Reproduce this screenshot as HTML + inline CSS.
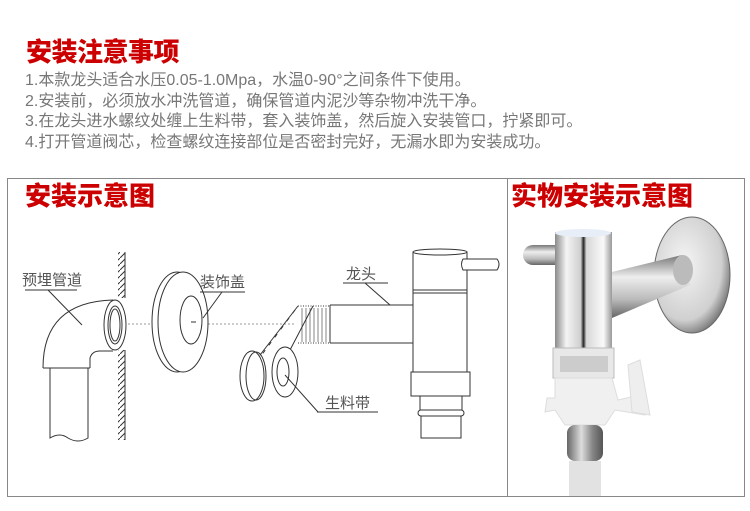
<!DOCTYPE html>
<html><head><meta charset="utf-8">
<style>
html,body{margin:0;padding:0;background:#fff;}
body{width:750px;height:511px;position:relative;overflow:hidden;font-family:"Liberation Sans","Noto Sans CJK SC",sans-serif;}
.t{position:absolute;color:#cc0000;font-weight:900;font-size:26px;line-height:26px;letter-spacing:-0.5px;font-family:"Noto Sans CJK SC","WenQuanYi Zen Hei",sans-serif;}
.l{position:absolute;left:25px;color:#777;font-size:16px;line-height:18px;white-space:nowrap;font-family:"Liberation Sans","Noto Sans CJK SC",sans-serif;}
svg{position:absolute;left:0;top:0;}
</style></head><body>
<div class="t" style="left:26px;top:38px;">安装注意事项</div>
<div class="l" style="top:72px;">1.本款龙头适合水压0.05-1.0Mpa，水温0-90°之间条件下使用。</div>
<div class="l" style="top:93px;">2.安装前，必须放水冲洗管道，确保管道内泥沙等杂物冲洗干净。</div>
<div class="l" style="top:113px;">3.在龙头进水螺纹处缠上生料带，套入装饰盖，然后旋入安装管口，拧紧即可。</div>
<div class="l" style="top:134px;">4.打开管道阀芯，检查螺纹连接部位是否密封完好，无漏水即为安装成功。</div>

<svg width="750" height="511" viewBox="0 0 750 511">
<defs>
<linearGradient id="ch" x1="0" x2="1" y1="0" y2="0">
<stop offset="0" stop-color="#8a8a8a"/><stop offset="0.2" stop-color="#f4f4f4"/><stop offset="0.45" stop-color="#cfcfcf"/><stop offset="0.5" stop-color="#222"/><stop offset="0.55" stop-color="#d8d8d8"/><stop offset="0.85" stop-color="#fafafa"/><stop offset="1" stop-color="#999"/></linearGradient>
<linearGradient id="sp" x1="0" x2="0" y1="0" y2="1">
<stop offset="0" stop-color="#777"/><stop offset="0.35" stop-color="#eee"/><stop offset="0.7" stop-color="#bbb"/><stop offset="1" stop-color="#666"/></linearGradient>
<radialGradient id="pl" cx="0.4" cy="0.4" r="0.7"><stop offset="0" stop-color="#f5f5f5"/><stop offset="0.7" stop-color="#d0d0d0"/><stop offset="1" stop-color="#555"/></radialGradient>
<linearGradient id="hs" x1="0" x2="1"><stop offset="0" stop-color="#666"/><stop offset="0.4" stop-color="#ddd"/><stop offset="0.7" stop-color="#888"/><stop offset="1" stop-color="#555"/></linearGradient>
<pattern id="hatch" width="6" height="6" patternUnits="userSpaceOnUse"><path d="M0 6 L6 0" stroke="#333" stroke-width="1"/></pattern>
</defs>
<rect x="7.5" y="178.5" width="737" height="318" fill="none" stroke="#888" stroke-width="1"/>
<line x1="507.5" y1="178" x2="507.5" y2="497" stroke="#888"/>

<g fill="none" stroke="#333" stroke-width="1">
<line x1="125" y1="252" x2="125" y2="298"/>
<line x1="125" y1="350" x2="125" y2="440"/>
<rect x="118" y="252" width="7" height="46" fill="url(#hatch)" stroke="none"/>
<rect x="118" y="350" width="7" height="90" fill="url(#hatch)" stroke="none"/>
<path d="M43 368 Q43 302 113 300"/>
<path d="M90 368 L90 358 Q92 351 100 351 L113 351"/>
<line x1="43" y1="368" x2="90" y2="368"/>
<path d="M50 368 L50 438 Q60 432 68 438 Q78 444 88 438 L88 368"/>
<ellipse cx="115" cy="325" rx="11" ry="25" fill="#fff"/>
<ellipse cx="115" cy="325" rx="7" ry="19"/>
<ellipse cx="115" cy="325" rx="5" ry="16"/>
<line x1="128" y1="324" x2="296" y2="324" stroke="#999" stroke-dasharray="2,2"/>
<ellipse cx="177" cy="322" rx="25" ry="50" fill="#fff"/>
<ellipse cx="183" cy="322" rx="25" ry="50" fill="#fff"/>
<ellipse cx="191" cy="320" rx="11" ry="24"/>
<path d="M191 322 L196 322"/>
<path d="M298 306 L260 355 M313 306 L290 350"/>
<path d="M295 310 L252 368" stroke-dasharray="4,6"/>
<ellipse cx="252" cy="376" rx="12" ry="25" fill="#fff"/>
<ellipse cx="256" cy="376" rx="10" ry="24"/>
<ellipse cx="285" cy="372" rx="13" ry="25" fill="#fff"/>
<ellipse cx="283" cy="372" rx="6" ry="14"/>
<path d="M298 306 L330 306 M298 343 L330 343" stroke-dasharray="1,1.5"/>
<path d="M302 308 L302 342 M306 308 L306 342 M310 308 L310 342 M314 308 L314 342 M318 308 L318 342 M322 308 L322 342 M326 308 L326 342" stroke-width="0.6"/>
<path d="M330 305 L413 305 M330 343 L413 343"/>
<path d="M330 305 L330 343"/>
<path d="M413 305 Q423 324 413 343"/>
<rect x="413" y="252" width="54" height="120" fill="#fff"/>
<ellipse cx="440" cy="252" rx="27" ry="3" fill="#fff"/>
<line x1="413" y1="290" x2="467" y2="290"/>
<line x1="413" y1="293" x2="467" y2="293"/>
<path d="M463 259 L497 259 Q501 264 497 270 L463 270 Q460 264 463 259Z" fill="#fff"/>
<rect x="411" y="372" width="59" height="24" fill="#fff"/>
<rect x="420" y="396" width="42" height="14" fill="#fff"/>
<rect x="418" y="410" width="46" height="6" rx="3" fill="#fff"/>
<rect x="421" y="416" width="40" height="22" fill="#fff"/>
<path d="M25 290 L77 290 M48 290 L82 325"/>
<path d="M200 292 L245 292 M222 292 L203 318"/>
<path d="M343 283 L388 283 M365 283 L390 305"/>
<path d="M317 412 L378 412 M318 412 L285 375"/>
</g>
<g font-family="'Noto Sans CJK SC',sans-serif" font-size="15" fill="#555">
<text x="22" y="285">预埋管道</text>
<text x="200" y="287">装饰盖</text>
<text x="346" y="279">龙头</text>
<text x="325" y="408">生料带</text>
</g>

<ellipse cx="692" cy="275" rx="38" ry="58" fill="url(#pl)" stroke="#666"/>
<path d="M612 272 L682 255 L690 285 L612 318Z" fill="url(#sp)"/>
<ellipse cx="683" cy="270" rx="10" ry="15" fill="#bbb"/>
<rect x="523" y="245" width="45" height="20" rx="10" fill="url(#sp)"/>
<rect x="555" y="232" width="57" height="116" fill="url(#ch)"/>
<ellipse cx="583" cy="233" rx="28" ry="4" fill="#e8eef8"/>
<rect x="553" y="348" width="61" height="30" fill="#e8e8e8" stroke="#bbb"/>
<rect x="560" y="356" width="48" height="16" fill="#ccc"/>
<path d="M555 378 L612 378 L618 400 L640 395 L645 415 L615 410 L605 425 L565 425 L555 410 L545 412 L547 398 L555 398Z" fill="#f0f0f0" stroke="#ddd"/>
<path d="M628 365 L640 360 L650 415 L632 412Z" fill="#eee" stroke="#ddd"/>
<rect x="567" y="425" width="36" height="36" rx="8" fill="url(#hs)"/>
<rect x="569" y="461" width="32" height="35" fill="#e2e2e2"/>

<g font-family="'Noto Sans CJK SC',sans-serif" font-weight="900" font-size="26" fill="#cc0000">
<text x="25" y="205">安装示意图</text>
<text x="511" y="205">实物安装示意图</text>
</g>
</svg>
</body></html>
